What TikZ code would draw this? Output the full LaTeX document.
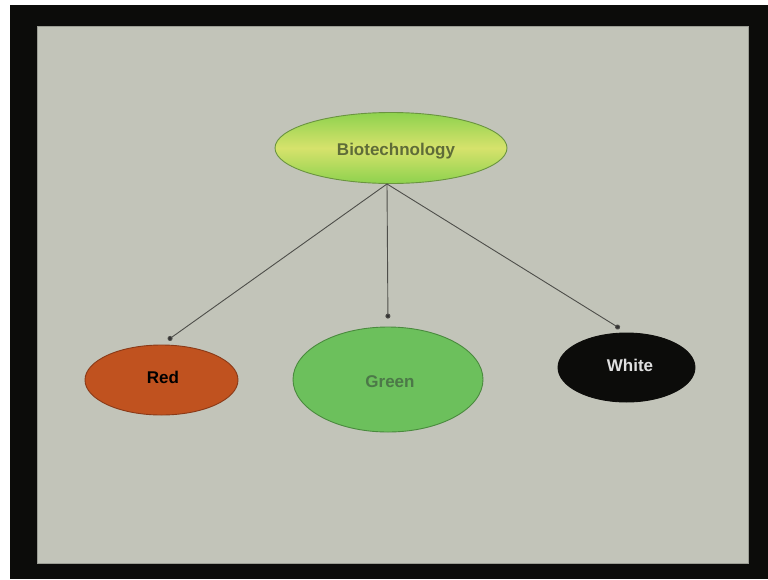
\documentclass[tikz,border=0pt]{standalone}
\usepackage{fontspec}
\setmainfont{Liberation Sans}
\usetikzlibrary{shapes.geometric,arrows.meta}

\definecolor{slidegray}{HTML}{C2C4B9}
\definecolor{framebk}{HTML}{0C0C0A}
\definecolor{redfill}{HTML}{C0521F}
\definecolor{redline}{HTML}{8A3A18}
\definecolor{greenfill}{HTML}{6CC05C}
\definecolor{greenline}{HTML}{4A8A3E}
\definecolor{greentext}{HTML}{4C7848}
\definecolor{biotop}{HTML}{8ED24E}
\definecolor{biomid}{HTML}{D6E26C}
\definecolor{bioline}{HTML}{6A9440}
\definecolor{biotext}{HTML}{5E6C38}
\definecolor{linkgray}{HTML}{4E4E4A}

\tikzset{
  oval/.style={ellipse, inner sep=0pt, line width=0.9pt},
  label/.style={font=\fontsize{17}{19}\selectfont\bfseries},
  link/.style={draw=linkgray, line width=0.9pt,
    -{Circle[length=5pt, fill=black!80]}, shorten >=8pt},
}

\begin{document}
\begin{tikzpicture}[x=1pt,y=-1pt]
  % page, dark frame and slide
  \useasboundingbox (0,0) rectangle (768,579);
  \fill[white] (0,0) rectangle (768,579);
  \fill[framebk] (10,5) rectangle (768,579);
  \fill[slidegray!80!black] (37,26) rectangle (749,564);
  \fill[slidegray] (38,27) rectangle (748,563);

  % nodes
  \node[oval, draw=bioline, top color=biotop, bottom color=biotop,
        middle color=biomid, minimum width=232pt, minimum height=71pt]
        (bio) at (391,148) {};
  \node[label, text=biotext] (biolabel) at (396,151) {Biotechnology};

  \node[oval, draw=redline, fill=redfill, minimum width=153pt, minimum height=70pt]
        (red) at (161.5,380) {};
  \node[label, text=black] (redlabel) at (163,377) {Red};

  \node[oval, draw=greenline, fill=greenfill, minimum width=190pt, minimum height=105pt]
        (green) at (388,379.5) {};
  \node[label, text=greentext] (greenlabel) at (390,382) {Green};

  \node[oval, draw=framebk, fill=framebk, minimum width=137pt, minimum height=69pt]
        (white) at (626.5,367.5) {};
  \node[label, text=white!88!black] (whitelabel) at (630,365) {White};

  % connectors, all leaving one point under the top oval
  \coordinate (hub) at ([xshift=-4pt]bio.south);
  \draw[link] (hub) -- (red.north);
  \draw[link] (hub) -- (green.north);
  \draw[link] (hub) -- (white.north);
\end{tikzpicture}
\end{document}
